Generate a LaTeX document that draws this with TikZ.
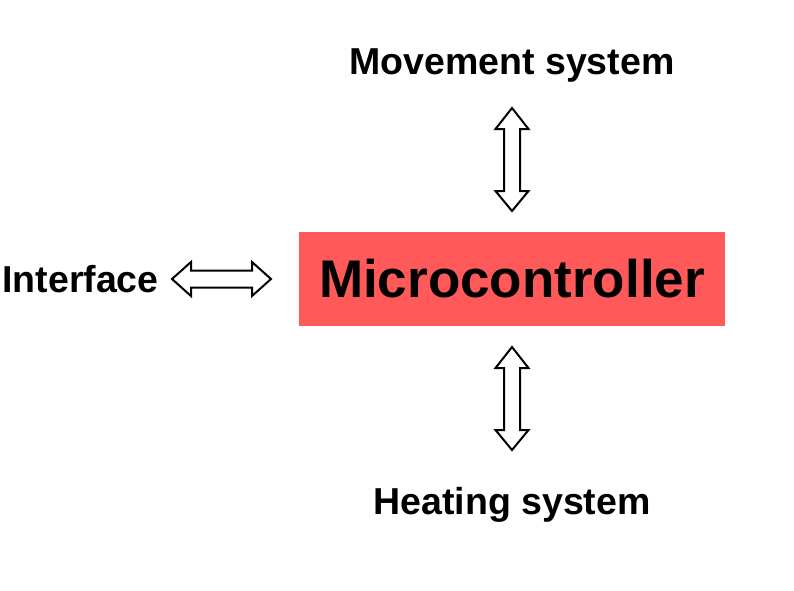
\documentclass[tikz,border=0pt]{standalone}
\usepackage{fontspec}
\setmainfont{Liberation Sans}
\definecolor{boxred}{RGB}{255,89,89}
\begin{document}
\begin{tikzpicture}[x=1pt,y=-1pt,
  lbl/.style={font=\fontsize{37.5}{40}\selectfont\bfseries, inner sep=0pt, anchor=base},
  mcbox/.style={fill=boxred, minimum width=426pt, minimum height=94pt, inner sep=0pt,
    font=\fontsize{53}{56}\selectfont\bfseries},
  blockarrow/.style={draw=black, line width=2pt, line join=miter, fill=white}]
\useasboundingbox[fill=white] (0,0) rectangle (794,590);
\node[mcbox] (mc) at (512,279) {Microcontroller};
\node[lbl] (move) at (512,74) {Movement system};
\node[lbl] (heat) at (512,514) {Heating system};
\node[lbl] (iface) at (80.5,292) {Interface};
% top vertical arrow
\coordinate (ta) at (512,108);
\coordinate (tb) at (512,211);
\draw[blockarrow] (ta) -- ++(16.5,21) -- ++(-8.5,0) -- ++(0,62) -- ++(8.5,0) -- (tb)
  -- ++(-16.5,-20) -- ++(8.5,0) -- ++(0,-62) -- ++(-8.5,0) -- cycle;
% bottom vertical arrow
\coordinate (ba) at (512,347);
\coordinate (bb) at (512,450);
\draw[blockarrow] (ba) -- ++(16.5,21) -- ++(-8.5,0) -- ++(0,62) -- ++(8.5,0) -- (bb)
  -- ++(-16.5,-20) -- ++(8.5,0) -- ++(0,-62) -- ++(-8.5,0) -- cycle;
% horizontal arrow
\coordinate (la) at (172,279);
\coordinate (lb) at (271,279);
\draw[blockarrow] (la) -- ++(19,-17) -- ++(0,8.5) -- ++(61,0) -- ++(0,-8.5) -- (lb)
  -- ++(-19,17) -- ++(0,-8.5) -- ++(-61,0) -- ++(0,8.5) -- cycle;
\end{tikzpicture}
\end{document}
